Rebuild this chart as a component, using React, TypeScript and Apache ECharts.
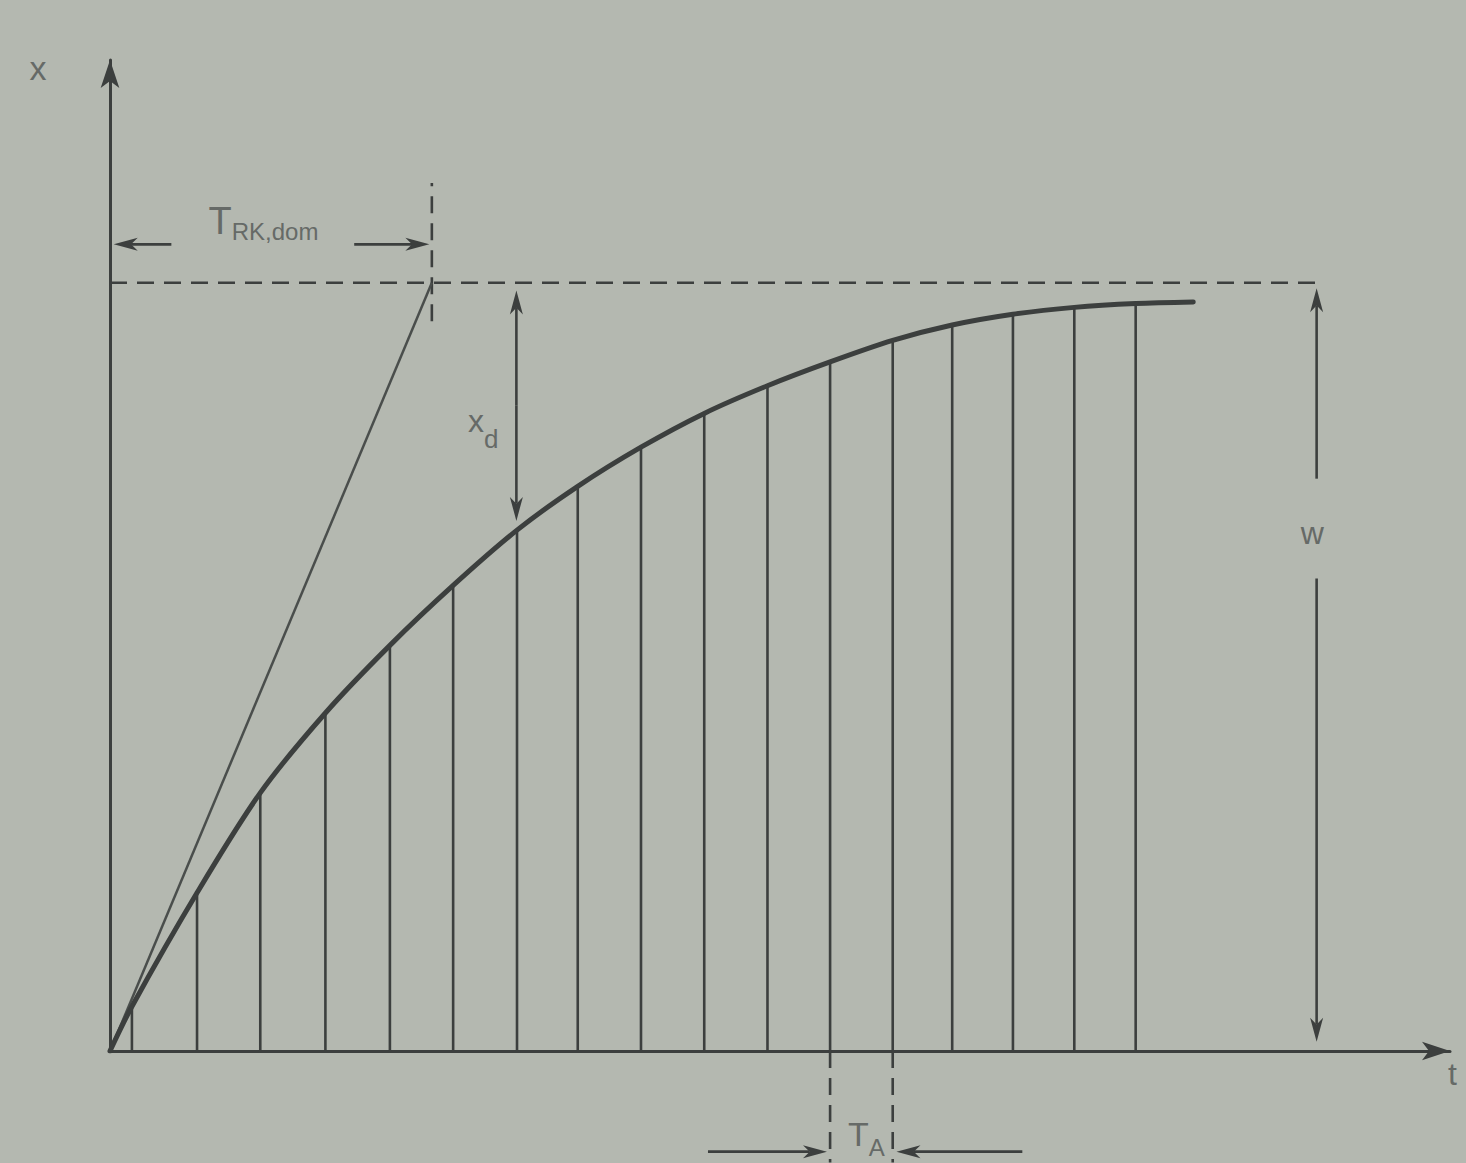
import React, { useEffect, useRef } from "react";
import * as echarts from "echarts";

// Sampling instants (in units of the sampling period T_A) and sampled values (w = 1)
const SAMPLE_T = [0.35, 1.39, 2.4, 3.44, 4.47, 5.48, 6.5, 7.47, 8.48, 9.49, 10.5, 11.5, 12.5, 13.45, 14.42, 15.4, 16.38];
const SAMPLE_X = [0.058, 0.206, 0.336, 0.44, 0.528, 0.606, 0.678, 0.735, 0.786, 0.83, 0.866, 0.897, 0.925, 0.945, 0.959, 0.968, 0.973];

// Continuous response curve
const CURVE_T = [0, ...SAMPLE_T, 17.3];
const CURVE_X = [0, ...SAMPLE_X, 0.975];

// Tangent at the origin reaching w at T_RK,dom
const T_RK_DOM = 5.14;
const TANGENT_T = [0, T_RK_DOM];
const TANGENT_X = [0, 1];

// Dashed guide lines [t1, x1, t2, x2]
const DASHED = [
  [0, 1, 19.3, 1],
  [T_RK_DOM, 0.95, T_RK_DOM, 1.13],
  [11.5, 0, 11.5, -0.145],
  [12.5, 0, 12.5, -0.145],
];

// Dimension arrows [tFrom, xFrom, tTo, xTo] (head at "to")
const ARROWS = [
  [0.98, 1.05, 0.06, 1.05],
  [3.9, 1.05, 5.1, 1.05],
  [6.49, 0.84, 6.49, 0.99],
  [6.49, 0.84, 6.49, 0.69],
  [19.27, 0.745, 19.27, 0.993],
  [19.27, 0.615, 19.27, 0.012],
  [9.55, -0.131, 11.45, -0.131],
  [14.57, -0.131, 12.56, -0.131],
];

// Labels: main text, subscript, anchor [t, x]
const LABEL_MAIN = ["x", "t", "T", "x", "w", "T"];
const LABEL_SUB = ["", "", "RK,dom", "d", "", "A"];
const LABEL_T = [-1.15, 21.44, 2.45, 5.96, 19.2, 12.08];
const LABEL_X = [1.28, -0.03, 1.08, 0.82, 0.674, -0.108];

const BG = "#b4b8b0";
const INK = "#3c3f3e";
const TEXT = "#666a67";
const FONT = "'Liberation Sans', 'DejaVu Sans', Arial, sans-serif";
const LABEL_STYLE = [
  { m: 34, s: 22, lh: 0 },
  { m: 32, s: 22, lh: 0 },
  { m: 38, s: 24, lh: 44 },
  { m: 32, s: 26, lh: 62 },
  { m: 32, s: 22, lh: 0 },
  { m: 34, s: 24, lh: 52 },
];

export default function App() {
  const ref = useRef<HTMLDivElement>(null);
  useEffect(() => {
    if (!ref.current) return;
    const chart = echarts.init(ref.current, null, { renderer: "svg" });
    const option: any = {
      animation: false,
      backgroundColor: BG,
      grid: { left: 110, right: 16, top: 60, bottom: 112, containLabel: false },
      xAxis: {
        type: "value",
        min: 0,
        max: 21.4,
        axisLine: {
          show: true,
          onZero: true,
          symbol: ["none", "arrow"],
          symbolSize: [14, 28],
          lineStyle: { color: INK, width: 3 },
        },
        axisTick: { show: false },
        axisLabel: { show: false },
        splitLine: { show: false },
      },
      yAxis: {
        type: "value",
        min: 0,
        max: 1.29,
        axisLine: {
          show: true,
          onZero: false,
          symbol: ["none", "arrow"],
          symbolSize: [14, 28],
          lineStyle: { color: INK, width: 3 },
        },
        axisTick: { show: false },
        axisLabel: { show: false },
        splitLine: { show: false },
      },
      series: [
        {
          type: "custom",
          name: "samples",
          clip: false,
          data: SAMPLE_T.map((t, i) => [t, SAMPLE_X[i]]),
          renderItem: (params: any, api: any) => {
            const p0 = api.coord([api.value(0), 0]);
            const p1 = api.coord([api.value(0), api.value(1)]);
            return {
              type: "line",
              shape: { x1: p0[0], y1: p0[1], x2: p1[0], y2: p1[1] },
              style: { stroke: INK, lineWidth: 2.6 },
            };
          },
          z: 2,
        },
        {
          type: "line",
          name: "response",
          data: CURVE_T.map((t, i) => [t, CURVE_X[i]]),
          smooth: 0.3,
          showSymbol: false,
          symbol: "none",
          lineStyle: { color: INK, width: 5, cap: "round" },
          z: 4,
        },
        {
          type: "line",
          name: "tangent",
          data: TANGENT_T.map((t, i) => [t, TANGENT_X[i]]),
          showSymbol: false,
          symbol: "none",
          lineStyle: { color: "#4a4e4c", width: 2.5 },
          z: 3,
        },
        {
          type: "custom",
          name: "dashed",
          clip: false,
          data: DASHED,
          renderItem: (params: any, api: any) => {
            const p1 = api.coord([api.value(0), api.value(1)]);
            const p2 = api.coord([api.value(2), api.value(3)]);
            return {
              type: "line",
              shape: { x1: p1[0], y1: p1[1], x2: p2[0], y2: p2[1] },
              style: { stroke: INK, lineWidth: 2.6, lineDash: [17, 10] },
            };
          },
          z: 3,
        },
        {
          type: "custom",
          name: "arrows",
          clip: false,
          data: ARROWS,
          renderItem: (params: any, api: any) => {
            const p1 = api.coord([api.value(0), api.value(1)]);
            const p2 = api.coord([api.value(2), api.value(3)]);
            const dx = p2[0] - p1[0];
            const dy = p2[1] - p1[1];
            const len = Math.hypot(dx, dy) || 1;
            const ux = dx / len;
            const uy = dy / len;
            const nx = -uy;
            const ny = ux;
            const L = 24;
            const W = 6.5;
            const bx = p2[0] - ux * L;
            const by = p2[1] - uy * L;
            const notchX = p2[0] - ux * L * 0.72;
            const notchY = p2[1] - uy * L * 0.72;
            return {
              type: "group",
              children: [
                {
                  type: "line",
                  shape: { x1: p1[0], y1: p1[1], x2: notchX, y2: notchY },
                  style: { stroke: INK, lineWidth: 2.6 },
                },
                {
                  type: "polygon",
                  shape: {
                    points: [
                      [p2[0], p2[1]],
                      [bx + nx * W, by + ny * W],
                      [notchX, notchY],
                      [bx - nx * W, by - ny * W],
                    ],
                  },
                  style: { fill: INK },
                },
              ],
            };
          },
          z: 5,
        },
        {
          type: "custom",
          name: "labels",
          clip: false,
          data: LABEL_T.map((t, i) => [t, LABEL_X[i]]),
          renderItem: (params: any, api: any) => {
            const i = params.dataIndex;
            const p = api.coord([api.value(0), api.value(1)]);
            const st = LABEL_STYLE[i];
            const sub = LABEL_SUB[i];
            const text = sub ? `{m|${LABEL_MAIN[i]}}{s|${sub}}` : `{m|${LABEL_MAIN[i]}}`;
            const rich: any = {
              m: { fontSize: st.m, fontFamily: FONT, fill: TEXT, color: TEXT },
              s: { fontSize: st.s, fontFamily: FONT, fill: TEXT, color: TEXT, verticalAlign: "bottom" },
            };
            if (st.lh) rich.s.lineHeight = st.lh;
            return {
              type: "text",
              x: p[0],
              y: p[1],
              style: {
                text,
                rich,
                fill: TEXT,
                fontFamily: FONT,
                fontSize: st.m,
                align: "center",
                verticalAlign: "middle",
              },
            };
          },
          z: 6,
        },
      ],
    };
    chart.setOption(option);
    return () => chart.dispose();
  }, []);
  return (
    <div
      ref={ref}
      style={{ position: "fixed", left: 0, top: 0, width: 1466, height: 1163, background: BG }}
    />
  );
}
